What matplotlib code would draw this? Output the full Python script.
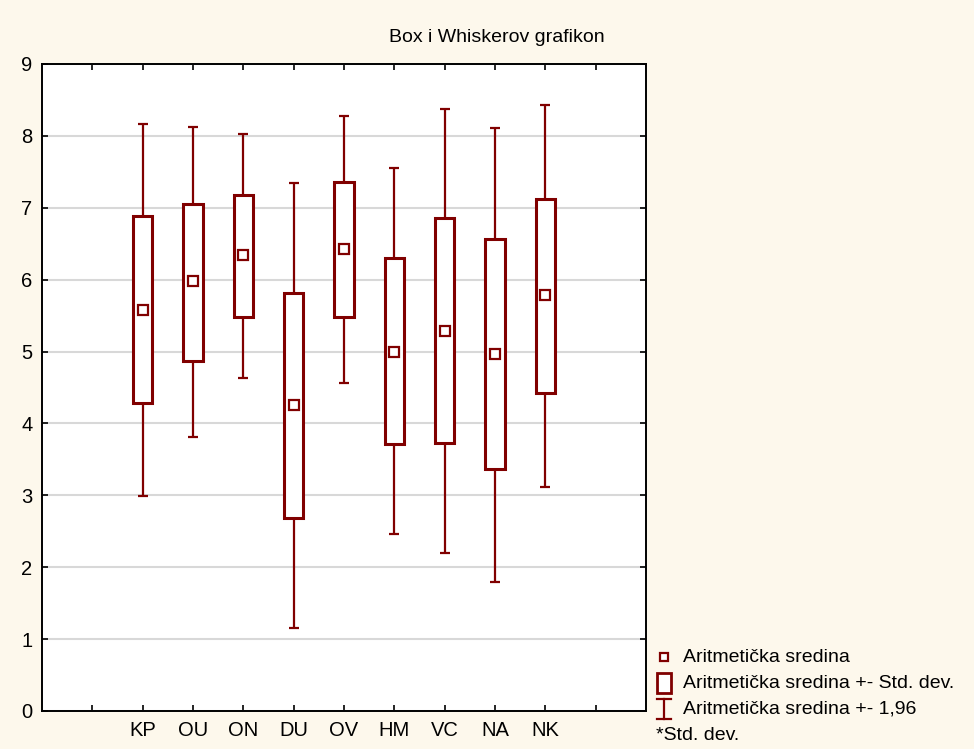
import matplotlib
matplotlib.use("Agg")
import matplotlib.pyplot as plt
import numpy as np
from matplotlib.patches import Rectangle

plt.rcParams['font.family'] = ['Liberation Sans', 'DejaVu Sans']

categories = ["KP", "OU", "ON", "DU", "OV", "HM", "VC", "NA", "NK"]
means      = [5.58, 5.98, 6.34, 4.25, 6.42, 5.00, 5.28, 4.97, 5.78]
box_low    = [4.28, 4.87, 5.48, 2.68, 5.48, 3.72, 3.73, 3.37, 4.43]
box_high   = [6.89, 7.05, 7.18, 5.82, 7.36, 6.30, 6.86, 6.56, 7.12]
whisk_low  = [2.99, 3.81, 4.63, 1.16, 4.56, 2.46, 2.20, 1.79, 3.12]
whisk_high = [8.16, 8.12, 8.02, 7.34, 8.28, 7.55, 8.38, 8.11, 8.43]
y_ticks = [0, 1, 2, 3, 4, 5, 6, 7, 8, 9]

title = "Box i Whiskerov grafikon"
legend_labels = ["Aritmetička sredina", "Aritmetička sredina +- Std. dev.",
                 "Aritmetička sredina +- 1,96", "*Std. dev."]

RED = "#800000"
BG = "#FDF8EC"

fig = plt.figure(figsize=(9.74, 7.49), dpi=100, facecolor=BG)
ax = fig.add_axes([42/974, 1-711/749, (646-42)/974, (711-64)/749])
ax.set_facecolor("white")

x = np.arange(len(categories))
lo = np.array(box_low); hi = np.array(box_high)
wl = np.array(whisk_low); wh = np.array(whisk_high)

ax.vlines(x, wl, lo, color=RED, lw=1.6, zorder=3)
ax.vlines(x, hi, wh, color=RED, lw=1.6, zorder=3)
ax.hlines(wl, x-0.1, x+0.1, color=RED, lw=1.6, zorder=3)
ax.hlines(wh, x-0.1, x+0.1, color=RED, lw=1.6, zorder=3)
ax.bar(x, hi-lo, bottom=lo, width=0.38, facecolor="white", edgecolor=RED,
       linewidth=2.2, zorder=4)
ax.plot(x, means, linestyle="none", marker="s", markersize=7,
        markerfacecolor="white", markeredgecolor=RED, markeredgewidth=1.6, zorder=5)

ax.set_xlim(-2, 10)
ax.set_ylim(0, 9)
ax.set_yticks(y_ticks)
ax.set_yticklabels([str(v) for v in y_ticks], fontsize=14.5)
xt = np.arange(-1, 10)
ax.set_xticks(xt)
ax.set_xticklabels([categories[i] if 0 <= i < len(categories) else "" for i in xt], fontsize=14.5)
ax.grid(axis="y", color="#D8D8D8", lw=1.5, zorder=0)
ax.set_axisbelow(True)
ax.tick_params(axis="x", direction="in", top=True, length=4, width=1.2, pad=7, colors="black")
ax.tick_params(axis="y", direction="in", right=True, length=4, width=1.2, pad=7)
for s in ax.spines.values():
    s.set_linewidth(1.4)
    s.set_color("black")

fig.text(497/974, 1-38/749, title, ha="center", va="center", fontsize=14)

# legend drawn in pixel-coordinate overlay
lg = fig.add_axes([0, 0, 1, 1], facecolor="none")
lg.set_xlim(0, 974); lg.set_ylim(749, 0); lg.axis("off")
rows = [657, 683, 709, 735]
lg.plot([664], [rows[0]], marker="s", markersize=6, markerfacecolor="white",
        markeredgecolor=RED, markeredgewidth=1.6, linestyle="none")
lg.add_patch(Rectangle((657, rows[1]-10), 14, 20, facecolor="white", edgecolor=RED, lw=2))
lg.plot([664, 664], [rows[2]-10, rows[2]+10], color=RED, lw=1.6)
lg.plot([657, 671], [rows[2]-10, rows[2]-10], color=RED, lw=1.6)
lg.plot([657, 671], [rows[2]+10, rows[2]+10], color=RED, lw=1.6)
for i, t in enumerate(legend_labels[:3]):
    lg.text(683, rows[i], t, ha="left", va="center", fontsize=14)
lg.text(656, rows[3], legend_labels[3], ha="left", va="center", fontsize=14)

fig.savefig("out.png", dpi=100, facecolor=BG)
